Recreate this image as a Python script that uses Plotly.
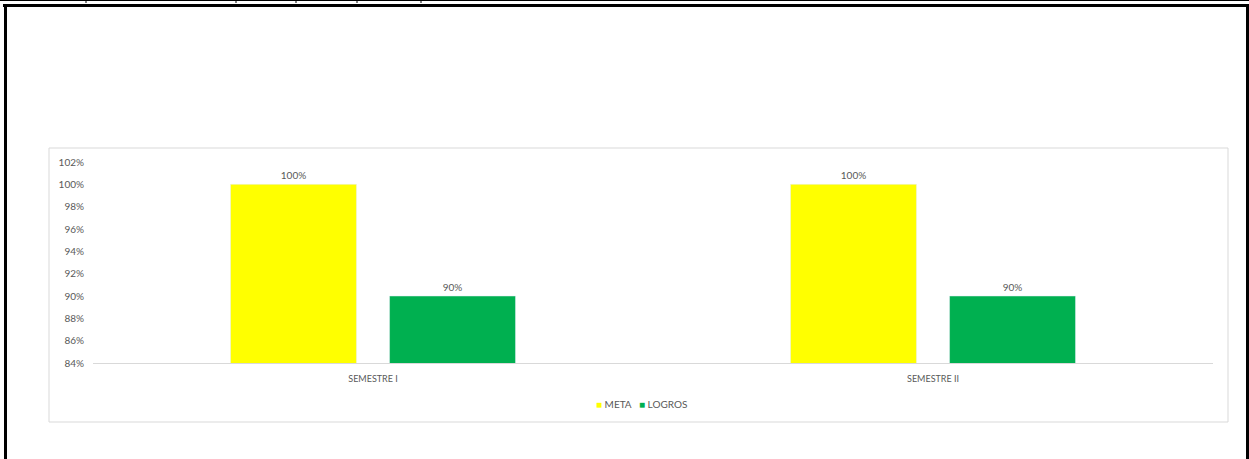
import plotly.graph_objects as go

categories = ["SEMESTRE I", "SEMESTRE II"]
meta = [1.00, 1.00]
logros = [0.90, 0.90]
series_names = ["META", "LOGROS"]
series_colors = ["#FFFF00", "#00B050"]

W, H = 1249, 459
PL, PR, PT, PB = 93, 1213, 162, 363  # plot area in pixels


def px_x(p):
    return (p - PL) / (PR - PL)


def px_y(p):
    return (PB - p) / (PB - PT)


FONT = "Lato, Calibri, Arial, sans-serif"
GRAY = "#595959"

fig = go.Figure()
for name, vals, col in zip(series_names, [meta, logros], series_colors):
    fig.add_trace(go.Bar(
        name=name, x=categories, y=vals, marker_color=col,
        texttemplate="%{y:.0%}", textposition="outside", cliponaxis=False,
        textfont=dict(size=10, color=GRAY, family=FONT), showlegend=False,
    ))

# legend built as text with coloured square swatches
legend_text = "&nbsp;&nbsp;&nbsp;".join(
    f"<span style='color:{c}'>■</span>&nbsp;{n}" for n, c in zip(series_names, series_colors)
)

shapes = []
# chart box
shapes.append(dict(type="rect", xref="paper", yref="paper",
                   x0=px_x(49), x1=px_x(1228), y0=px_y(148), y1=px_y(422),
                   line=dict(color="#D9D9D9", width=1), fillcolor="rgba(0,0,0,0)", layer="below"))
# outer black frame
shapes.append(dict(type="line", xref="paper", yref="paper",
                   x0=px_x(0), x1=px_x(1249), y0=px_y(0.5), y1=px_y(0.5),
                   line=dict(color="black", width=1)))
for tx in [86, 236, 296, 357, 421]:
    shapes.append(dict(type="line", xref="paper", yref="paper",
                       x0=px_x(tx), x1=px_x(tx), y0=px_y(0), y1=px_y(3),
                       line=dict(color="black", width=1)))
shapes.append(dict(type="rect", xref="paper", yref="paper",
                   x0=px_x(3), x1=px_x(1249), y0=px_y(4), y1=px_y(7),
                   line=dict(width=0), fillcolor="black"))
shapes.append(dict(type="rect", xref="paper", yref="paper",
                   x0=px_x(4), x1=px_x(7), y0=px_y(4), y1=px_y(459),
                   line=dict(width=0), fillcolor="black"))
shapes.append(dict(type="rect", xref="paper", yref="paper",
                   x0=px_x(1246), x1=px_x(1249), y0=px_y(4), y1=px_y(459),
                   line=dict(width=0), fillcolor="black"))

fig.update_layout(
    width=W, height=H,
    margin=dict(l=PL, r=W - PR, t=PT, b=H - PB, autoexpand=False),
    paper_bgcolor="white", plot_bgcolor="white",
    barmode="group", bargap=0.432, bargroupgap=0.208,
    font=dict(family=FONT, color=GRAY, size=10),
    showlegend=False,
    shapes=shapes,
    annotations=[dict(xref="paper", yref="paper", x=px_x(641), y=px_y(404),
                      xanchor="center", yanchor="middle", showarrow=False,
                      text=legend_text, font=dict(size=10, color=GRAY, family=FONT))],
)
fig.update_yaxes(range=[0.84, 1.02], dtick=0.02, tick0=0.84, tickformat=".0%",
                 showgrid=False, zeroline=False, showline=False,
                 tickfont=dict(size=10, color=GRAY, family=FONT), ticks="", ticklabelstandoff=8)
fig.update_xaxes(showgrid=False, showline=True, linecolor="#D9D9D9", linewidth=1,
                 ticks="", ticklabelstandoff=7, tickfont=dict(size=9, color=GRAY, family=FONT))

fig.write_html("out.html", config={"displayModeBar": False},
               post_script="document.body.style.margin='0';document.body.style.overflow='hidden';")
